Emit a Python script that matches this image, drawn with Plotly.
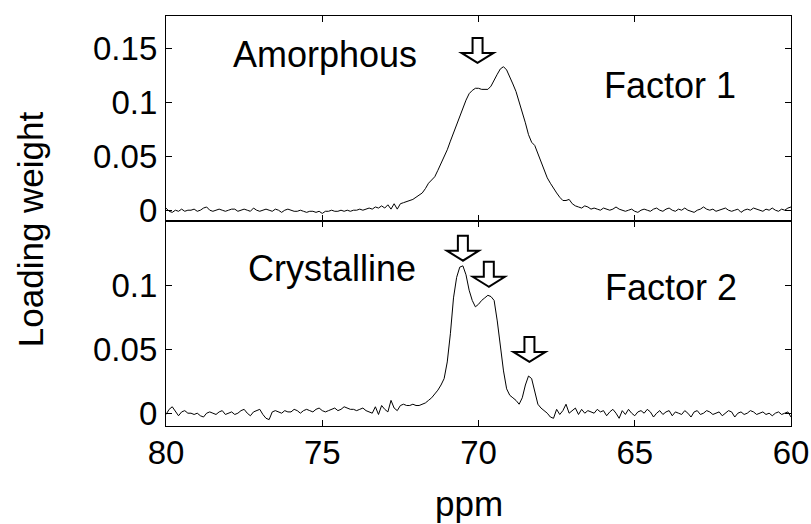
import numpy as np
import plotly.graph_objects as go
from plotly.subplots import make_subplots

# chemical shift grid: 80.0 -> 60.0 ppm, 0.1 ppm step
ppm = [round(80.0 - 0.1 * i, 1) for i in range(201)]

# Factor 1 loading weights (x 0.001)
factor1_milli = [
    2, -1, -2, 0, -1, 1, -1, 0, 0, 1,
    -1, 0, 2, 3, 0, -1, 0, 1, 0, -1,
    0, 1, 1, -1, 0, 1, 0, -1, 2, 0,
    -1, 0, 1, 0, -1, 1, 0, -2, 0, 1,
    0, -1, -1, 0, -1, -2, -1, -1, -2, -1,
    -3, -1, -1, 0, -1, -1, 0, -1, 0, -1,
    0, 0, 1, 0, 1, 2, 1, 3, 2, 4,
    2, 5, 1, 6, 1, 6, 7, 8, 9, 10,
    12, 14, 16, 20, 25, 28, 31, 37, 43, 49,
    56, 64, 72, 80, 88, 96, 102, 108, 111, 113,
    113, 112, 112, 112, 115, 121, 126, 131, 133, 130,
    124, 117, 110, 101, 92, 81, 70, 63, 60, 52,
    44, 37, 30, 25, 20, 16, 12, 9, 9, 10,
    6, 4, 3, 2, 4, 3, 1, 2, 1, 0,
    2, 1, 0, 1, 3, 1, 0, -1, 0, 1,
    -1, -2, 0, 1, 0, -1, 1, 2, 0, -1,
    1, 2, 0, -1, 1, 0, 2, 0, -1, -2,
    0, 1, 3, 1, 0, 1, -1, 0, 1, 2,
    0, -1, 0, 1, -2, 0, 1, 0, 2, 1,
    0, -1, 1, 0, 2, 0, -1, 1, 0, 2,
    3,
]

# Factor 2 loading weights (x 0.001)
factor2_milli = [
    -1, 3, 5, 1, -2, 1, 2, 0, 0, -1,
    0, -2, -3, 0, 1, 0, -1, 1, 2, -1,
    0, 1, -1, 0, 2, 3, 0, -2, 1, 2,
    3, -1, -4, -5, 1, 2, 1, 0, 2, 1,
    1, 3, 2, 0, 2, 3, 2, 1, 3, 4,
    2, 1, 2, 3, 4, 2, 3, 5, 4, 3,
    3, 2, 3, 4, 2, 1, 0, 5, -1, 6,
    3, 1, 10, 4, 2, 6, 7, 6, 6, 7,
    6, 6, 7, 8, 10, 12, 15, 18, 22, 27,
    40, 62, 90, 106, 114, 115, 108, 96, 88, 83,
    85, 88, 90, 92, 91, 88, 72, 52, 33, 19,
    14, 12, 10, 7, 12, 22, 29, 27, 16, 7,
    4, 2, 0, -3, -4, 3, -1, 2, 7, 0,
    2, 4, -1, 3, 0, 2, 1, 0, 3, 1,
    2, -2, 1, 3, 0, -4, 2, -1, 3, 0,
    -2, 1, 2, 0, 3, 1, -3, 0, 2, -1,
    1, 2, -2, 1, 0, -1, 2, 0, -3, 1,
    2, -1, 0, 2, 1, -1, 0, 1, -2, 0,
    2, 1, -3, 0, 1, -1, 0, 2, 1, -1,
    0, 1, -1, 0, -2, 0, 1, -1, 0, 1,
    -3,
]

factor1 = [v / 1000 for v in factor1_milli]
factor2 = [v / 1000 for v in factor2_milli]

# peak markers (hollow arrows): tip position
arrow1_ppm = [70.03]
arrow1_y = [0.1365]
arrow2_ppm = [70.5, 69.67, 68.37]
arrow2_y = [0.119, 0.0987, 0.040]

x_ticks = [80, 75, 70, 65, 60]
y1_ticks = [0, 0.05, 0.1, 0.15]
y1_labels = ["0", "0.05", "0.1", "0.15"]
y2_ticks = [0, 0.05, 0.1]
y2_labels = ["0", "0.05", "0.1"]

FONT = "Liberation Sans, Arial, Helvetica, sans-serif"

fig = make_subplots(rows=2, cols=1, shared_xaxes=True, vertical_spacing=0)

fig.add_trace(go.Scatter(x=ppm, y=factor1, mode="lines",
                         line=dict(color="black", width=1), showlegend=False,
                         hoverinfo="skip"), row=1, col=1)
fig.add_trace(go.Scatter(x=ppm, y=factor2, mode="lines",
                         line=dict(color="black", width=1), showlegend=False,
                         hoverinfo="skip"), row=2, col=1)

axis_common = dict(showline=True, linecolor="black", linewidth=1.3,
                   mirror="ticks", ticks="inside", ticklen=6, tickwidth=1,
                   tickcolor="black", showgrid=False, zeroline=False,
                   automargin=False,
                   tickfont=dict(family=FONT, size=33, color="black"))

fig.update_xaxes(range=[80, 60], tickvals=x_ticks, **axis_common)
fig.update_xaxes(showticklabels=False, row=1, col=1)
fig.update_xaxes(ticklabelstandoff=-3, row=2, col=1)
fig.update_yaxes(range=[-0.01, 0.18], tickvals=y1_ticks, ticktext=y1_labels,
                 ticklabelstandoff=1, row=1, col=1, **axis_common)
fig.update_yaxes(range=[-0.01, 0.15], tickvals=y2_ticks, ticktext=y2_labels,
                 ticklabelstandoff=1, row=2, col=1, **axis_common)

ann_font = dict(family=FONT, size=36, color="black")
fig.add_annotation(x=74.92, y=0.1446, xref="x", yref="y", text="Amorphous",
                   showarrow=False, font=ann_font)
fig.add_annotation(x=63.87, y=0.116, xref="x", yref="y", text="Factor 1",
                   showarrow=False, font=ann_font)
fig.add_annotation(x=74.68, y=0.113, xref="x2", yref="y2", text="Crystalline",
                   showarrow=False, font=ann_font)
fig.add_annotation(x=63.83, y=0.098, xref="x2", yref="y2", text="Factor 2",
                   showarrow=False, font=ann_font)

# hollow block arrow outline, in pixels relative to its tip
ARROW_PATH = "M0,0 L-16,10 L-5,10 L-5,25 L5,25 L5,10 L16,10 Z"


def add_arrow(xa, ya, xref, yref):
    fig.add_shape(type="path", path=ARROW_PATH, xref=xref, yref=yref,
                  xsizemode="pixel", ysizemode="pixel",
                  xanchor=xa, yanchor=ya,
                  line=dict(color="black", width=2), fillcolor="white")


for xa, ya in zip(arrow1_ppm, arrow1_y):
    add_arrow(xa, ya, "x", "y")
for xa, ya in zip(arrow2_ppm, arrow2_y):
    add_arrow(xa, ya, "x2", "y2")

# axis titles
title_font = dict(family=FONT, size=35, color="black")
fig.add_annotation(x=0.485, y=-0.19, xref="paper", yref="paper", text="ppm",
                   showarrow=False, font=title_font, yanchor="middle")
fig.add_annotation(x=-0.2176, y=0.48, xref="paper", yref="paper",
                   text="Loading weight", textangle=-90, showarrow=False,
                   font=title_font, xanchor="center")

fig.update_layout(width=811, height=524,
                  margin=dict(l=166, r=20, t=16, b=98),
                  paper_bgcolor="white", plot_bgcolor="white")

# remove the browser's default page margin so the figure fills the window
fig.write_html("out.html",
               config={"displayModeBar": False},
               post_script="document.body.style.margin='0';"
                           "document.body.style.overflow='hidden';")
